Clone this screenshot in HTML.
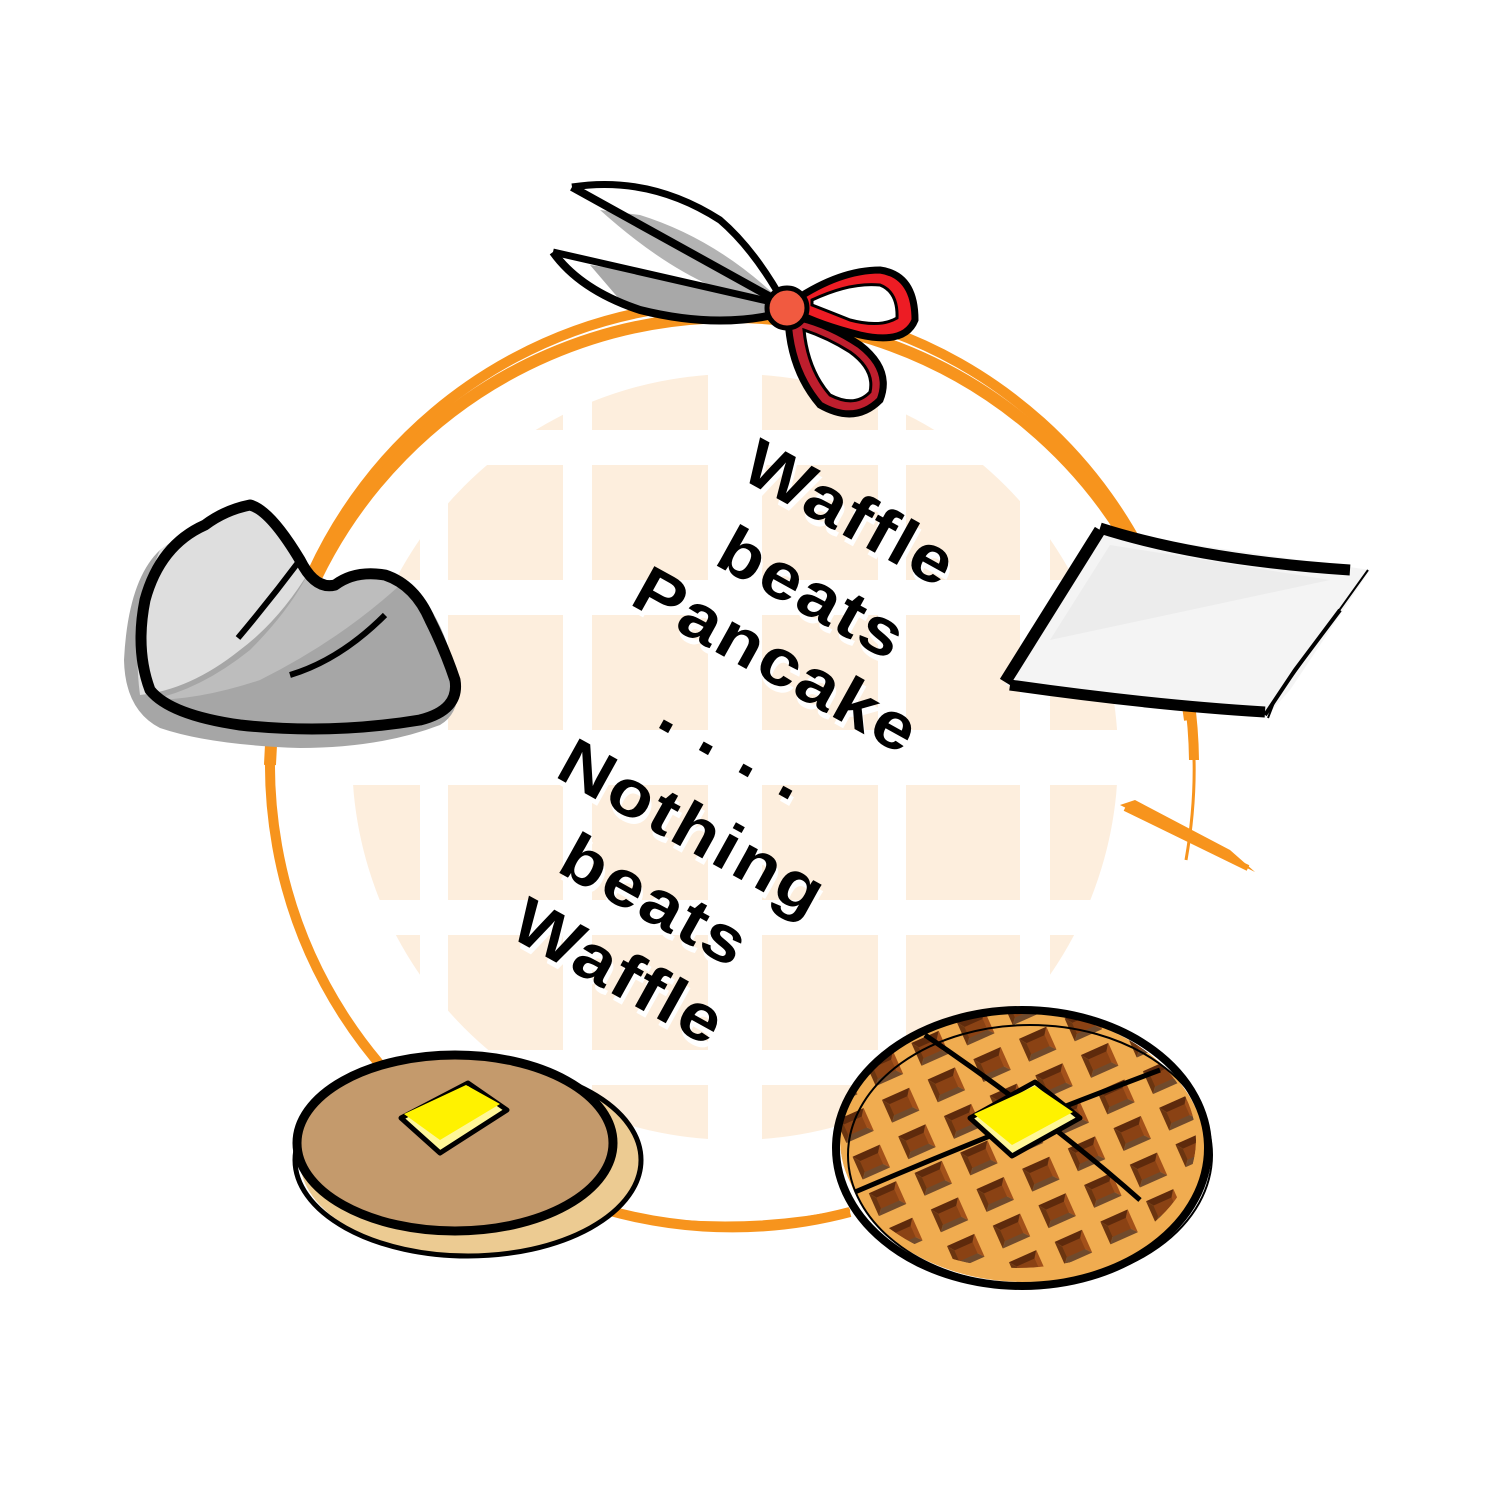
<!DOCTYPE html>
<html><head><meta charset="utf-8"><style>html,body{margin:0;padding:0;background:#fff}svg{display:block}</style></head>
<body>
<svg width="1500" height="1500" viewBox="0 0 1500 1500" xmlns="http://www.w3.org/2000/svg">
<defs>
<clipPath id="bg"><circle cx="735" cy="757" r="383"/></clipPath>
<clipPath id="wf"><ellipse cx="1018" cy="1140" rx="178" ry="128"/></clipPath>
<pattern id="wp" width="50" height="40" patternUnits="userSpaceOnUse" patternTransform="rotate(-24 1018 1140)">
<rect width="50" height="40" fill="#f0ac50"/>
<polygon points="10,8 40,8 35,15 15,15" fill="#5e2a0c"/>
<polygon points="10,8 15,15 15,27 10,33" fill="#6b3510"/>
<polygon points="40,8 40,33 35,27 35,15" fill="#a3511a"/>
<polygon points="10,33 15,27 35,27 40,33" fill="#704a2c"/>
<rect x="15" y="15" width="20" height="12" fill="#8a4214"/>
</pattern>
</defs>

<g clip-path="url(#bg)" fill="#fdeedd">
<rect x="340" y="370" width="80" height="60"/><rect x="448" y="370" width="115" height="60"/><rect x="592" y="370" width="116" height="60"/><rect x="762" y="370" width="116" height="60"/><rect x="906" y="370" width="114" height="60"/><rect x="1050" y="370" width="80" height="60"/>
<rect x="340" y="465" width="80" height="115"/><rect x="448" y="465" width="115" height="115"/><rect x="592" y="465" width="116" height="115"/><rect x="762" y="465" width="116" height="115"/><rect x="906" y="465" width="114" height="115"/><rect x="1050" y="465" width="80" height="115"/>
<rect x="340" y="615" width="80" height="115"/><rect x="448" y="615" width="115" height="115"/><rect x="592" y="615" width="116" height="115"/><rect x="762" y="615" width="116" height="115"/><rect x="906" y="615" width="114" height="115"/><rect x="1050" y="615" width="80" height="115"/>
<rect x="340" y="785" width="80" height="115"/><rect x="448" y="785" width="115" height="115"/><rect x="592" y="785" width="116" height="115"/><rect x="762" y="785" width="116" height="115"/><rect x="906" y="785" width="114" height="115"/><rect x="1050" y="785" width="80" height="115"/>
<rect x="340" y="935" width="80" height="115"/><rect x="448" y="935" width="115" height="115"/><rect x="592" y="935" width="116" height="115"/><rect x="762" y="935" width="116" height="115"/><rect x="906" y="935" width="114" height="115"/><rect x="1050" y="935" width="80" height="115"/>
<rect x="340" y="1085" width="80" height="70"/><rect x="448" y="1085" width="115" height="70"/><rect x="592" y="1085" width="116" height="70"/><rect x="762" y="1085" width="116" height="70"/><rect x="906" y="1085" width="114" height="70"/><rect x="1050" y="1085" width="80" height="70"/>
</g>

<path d="M 1194 760 A 462 462 0 1 0 850 1212" fill="none" stroke="#f7941d" stroke-width="10"/>
<path d="M 270 765 A 462 462 0 0 1 1190 720" fill="none" stroke="#f7941d" stroke-width="12"/>
<path d="M 1190 710 Q 1200 780 1186 860" fill="none" stroke="#f7941d" stroke-width="3"/>
<path d="M 1120 805 L 1255 872 L 1230 850 L 1135 800 Z" fill="#f7941d"/>
<path d="M 1125 808 L 1248 868" stroke="#f7941d" stroke-width="6"/>
<path d="M 610 1212 Q 730 1235 850 1210" fill="none" stroke="#f7941d" stroke-width="3"/>

<g transform="translate(735,745) rotate(29) scale(1.12,1)" font-family="Liberation Sans, sans-serif" font-weight="bold" font-size="66" text-anchor="middle" letter-spacing="2">
<g fill="#fff" transform="translate(4,5)">
<text x="-10" y="-236">Waffle</text><text x="-5" y="-148">beats</text><text x="-4" y="-72">Pancake</text><text x="0" y="22">. . . .</text><text x="3" y="115">Nothing</text><text x="5" y="197">beats</text><text x="8" y="277">Waffle</text>
</g>
<g fill="#000">
<text x="-10" y="-236">Waffle</text><text x="-5" y="-148">beats</text><text x="-4" y="-72">Pancake</text><text x="0" y="22">. . . .</text><text x="3" y="115">Nothing</text><text x="5" y="197">beats</text><text x="8" y="277">Waffle</text>
</g>
</g>

<!-- scissors -->
<path d="M 640 215 Q 720 240 785 305 Q 700 300 600 210 Z" fill="#b3b3b3"/>
<path d="M 590 265 Q 700 280 785 310 Q 700 330 620 300 Z" fill="#a8a8a8"/>
<path d="M 572 187 Q 650 175 720 220 Q 755 250 785 305" fill="none" stroke="#000" stroke-width="7"/>
<path d="M 572 187 L 785 305" stroke="#000" stroke-width="8"/>
<path d="M 553 252 Q 580 290 640 310 Q 720 330 785 312" fill="none" stroke="#000" stroke-width="8"/>
<path d="M 553 252 L 785 305" stroke="#000" stroke-width="7"/>
<path d="M 795 300 Q 840 270 880 270 Q 915 275 915 320 Q 905 345 860 335 Q 820 325 795 312 Z" fill="#ed1c24" stroke="#000" stroke-width="7"/>
<path d="M 812 300 Q 850 282 880 285 Q 898 292 897 318 Q 880 328 850 320 Q 830 312 812 305 Z" fill="#fff" stroke="#000" stroke-width="3"/>
<path d="M 788 318 Q 790 370 820 405 Q 855 425 880 400 Q 892 370 860 345 Q 830 325 800 318 Z" fill="#be1e2d" stroke="#000" stroke-width="7"/>
<path d="M 804 330 Q 808 370 830 395 Q 855 408 870 392 Q 875 370 850 352 Q 828 338 804 330 Z" fill="#fff" stroke="#000" stroke-width="3"/>
<circle cx="787" cy="308" r="20" fill="#f15a40" stroke="#000" stroke-width="5"/>

<!-- rock -->
<path d="M 250 505 Q 280 520 310 570 Q 335 590 350 580 Q 380 570 410 585 Q 440 610 455 670 Q 465 710 440 725 Q 380 748 300 748 Q 210 745 160 728 Q 125 710 124 660 Q 128 580 160 550 Q 200 520 250 505 Z" fill="#a6a6a6"/>
<path d="M 250 505 Q 280 520 310 570 Q 280 620 240 650 Q 190 690 140 695 Q 130 620 160 550 Q 200 520 250 505 Z" fill="#dedede"/>
<path d="M 310 570 Q 335 590 350 580 Q 380 570 400 585 Q 340 640 260 680 Q 200 700 150 700 Q 200 690 250 650 Q 290 610 310 570 Z" fill="#bdbdbd"/>
<path d="M 250 505 Q 225 510 205 525 Q 160 545 145 600 Q 135 650 150 690 Q 170 715 240 725 Q 330 735 420 720 Q 460 710 455 680 Q 445 650 430 620 Q 415 585 385 575 Q 355 570 335 585 Q 315 590 300 560 Q 270 510 250 505 Z" fill="none" stroke="#000" stroke-width="11" stroke-linejoin="round"/>
<path d="M 300 560 Q 270 600 238 638" stroke="#000" stroke-width="6" fill="none"/>
<path d="M 385 615 Q 340 660 290 675" stroke="#000" stroke-width="6" fill="none"/>

<!-- paper -->
<path d="M 1105 532 L 1370 570 L 1290 690 L 1265 718 L 1005 685 Z" fill="#f4f4f4"/>
<path d="M 1110 545 L 1330 580 L 1050 640 Z" fill="#ececec"/>
<path d="M 1100 530 L 1005 682" stroke="#000" stroke-width="12"/>
<path d="M 1100 528 Q 1200 560 1350 570" fill="none" stroke="#000" stroke-width="11"/>
<path d="M 1010 685 Q 1150 705 1265 712" fill="none" stroke="#000" stroke-width="11"/>
<path d="M 1368 570 L 1300 665 L 1275 700 L 1268 718" fill="none" stroke="#000" stroke-width="2"/>
<path d="M 1340 610 L 1295 670 L 1265 715" fill="none" stroke="#000" stroke-width="4"/>

<!-- pancake -->
<ellipse cx="470" cy="1160" rx="170" ry="96" fill="#eccb92"/>
<ellipse cx="468" cy="1160" rx="173" ry="96" fill="none" stroke="#000" stroke-width="5"/>
<ellipse cx="455" cy="1143" rx="158" ry="88" fill="#c49a6c" stroke="#000" stroke-width="9"/>
<polygon points="401,1118 468,1083 507,1110 440,1153" fill="#fff799" stroke="#000" stroke-width="5" stroke-linejoin="round"/>
<polygon points="404,1114 466,1085 500,1104 440,1140" fill="#fff200"/>

<!-- waffle -->
<ellipse cx="1025" cy="1150" rx="180" ry="132" fill="#f0ac50"/>
<ellipse cx="1018" cy="1140" rx="178" ry="128" fill="url(#wp)" clip-path="url(#wf)"/>
<ellipse cx="1022" cy="1148" rx="186" ry="138" fill="none" stroke="#000" stroke-width="8"/>
<ellipse cx="1030" cy="1155" rx="182" ry="130" fill="none" stroke="#000" stroke-width="2"/>
<path d="M 855 1192 Q 1000 1130 1160 1070" stroke="#000" stroke-width="5" fill="none"/>
<path d="M 925 1035 Q 1050 1120 1140 1200" stroke="#000" stroke-width="5" fill="none"/>
<polygon points="970,1118 1035,1082 1080,1118 1012,1156" fill="#fff799" stroke="#000" stroke-width="5" stroke-linejoin="round"/>
<polygon points="974,1114 1035,1086 1073,1112 1012,1145" fill="#fff200"/>
</svg>
</body></html>
